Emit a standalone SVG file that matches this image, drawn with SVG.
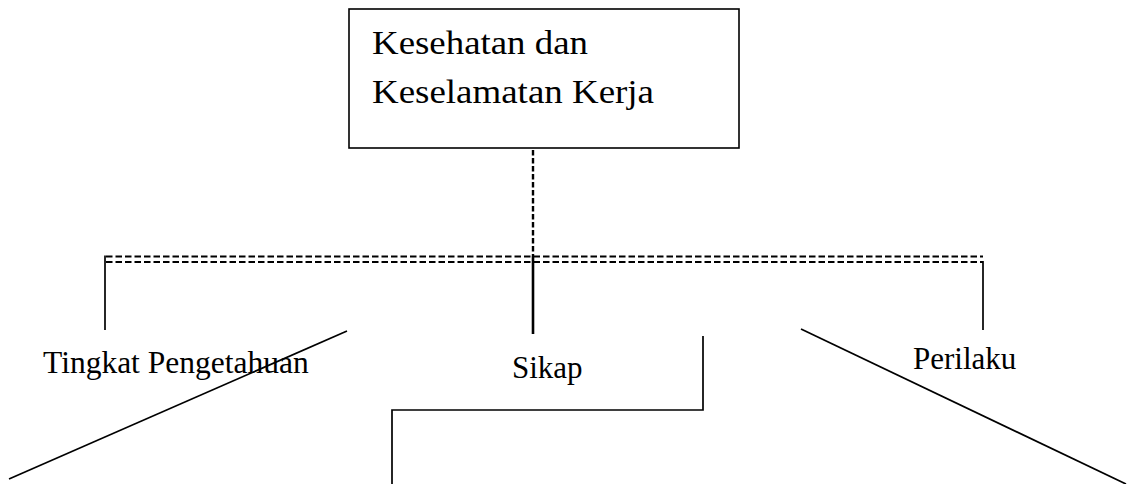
<svg xmlns="http://www.w3.org/2000/svg" width="1128" height="484" viewBox="0 0 1128 484">
<style>
.t{font-family:"Liberation Serif","Times New Roman",serif;fill:#000}
.box{fill:#fff;stroke:#000;stroke-width:1.6}
.s{stroke:#000;fill:none;stroke-width:1.7}
.d{stroke:#000;fill:none;stroke-width:2.2;stroke-dasharray:6.5 3}
.dv{stroke:#000;fill:none;stroke-width:2.4;stroke-dasharray:5.5 2.5}
</style>
<rect width="1128" height="484" fill="#fff"/>
<g id="connectors">
<line class="dv" x1="533" y1="150" x2="533" y2="256"/>
<line class="d" x1="106" y1="256.5" x2="983" y2="256.5"/>
<line class="d" x1="106" y1="262" x2="983" y2="262"/>
<line class="s" x1="105" y1="255.5" x2="105" y2="330"/>
<line class="s" x1="533" y1="256" x2="533" y2="334" style="stroke-width:2.6"/>
<line class="s" x1="983" y1="261" x2="983" y2="330"/>
<line class="s" x1="347" y1="331" x2="9" y2="479"/>
<polyline class="s" points="703,336 703,410 392,410 392,484"/>
<line class="s" x1="801" y1="329" x2="1126" y2="484"/>
</g>
<g id="node-k3">
<rect class="box" x="349" y="9" width="390" height="139"/>
<text class="t" x="372" y="54" font-size="33" textLength="216" lengthAdjust="spacingAndGlyphs">Kesehatan dan</text>
<text class="t" x="372" y="103" font-size="33" textLength="282" lengthAdjust="spacingAndGlyphs">Keselamatan Kerja</text>
</g>
<g id="node-pengetahuan">
<text class="t" x="43" y="373" font-size="31.5">Tingkat Pengetahuan</text>
</g>
<g id="node-sikap">
<text class="t" x="512" y="378" font-size="31">Sikap</text>
</g>
<g id="node-perilaku">
<text class="t" x="913" y="369" font-size="31">Perilaku</text>
</g>
</svg>
